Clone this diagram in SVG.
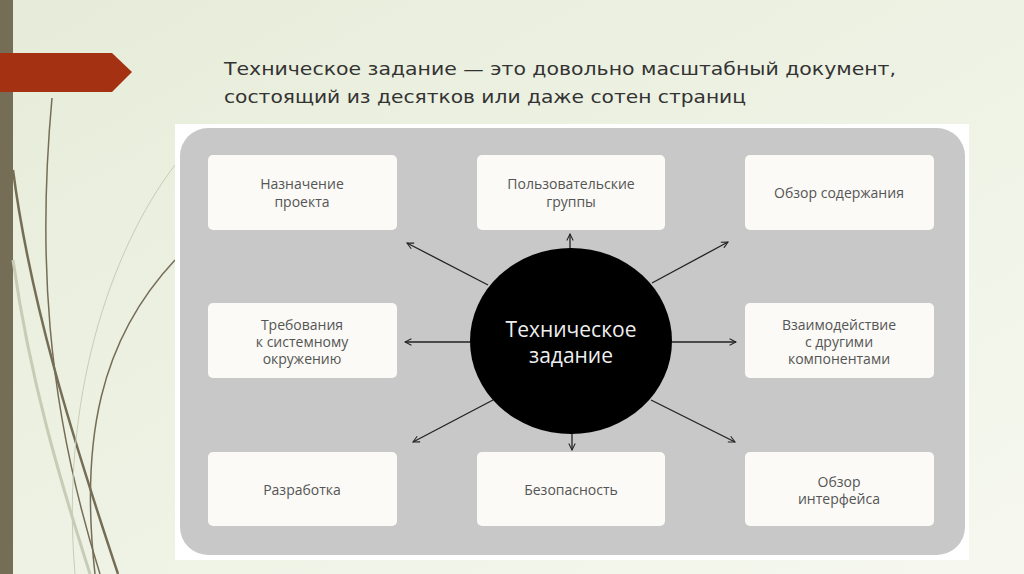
<svg xmlns="http://www.w3.org/2000/svg" width="1024" height="574" viewBox="0 0 1024 574">
<defs>
<linearGradient id="bg" x1="0" y1="0" x2="1" y2="1"><stop offset="0" stop-color="#e6ecd9"/><stop offset="0.5" stop-color="#eef2e4"/><stop offset="1" stop-color="#f6f8ef"/></linearGradient>
<marker id="ah" viewBox="0 0 10 10" refX="9" refY="5" markerWidth="8" markerHeight="8" orient="auto" markerUnits="userSpaceOnUse"><path d="M1,1 L9,5 L1,9" fill="none" stroke="#222" stroke-width="1.3"/></marker>
<style>
.box{fill:#fbfaf6}
.lbl{font-family:"Open Sans","DejaVu Sans",sans-serif;font-size:14px;fill:#555;text-anchor:middle}
.ar{stroke:#222;stroke-width:1.3;marker-end:url(#ah)}
.deco{fill:none;stroke:#766d57}
</style>
</defs>
<rect width="1024" height="574" fill="url(#bg)"/>
<rect x="0" y="0" width="13" height="574" fill="#766d57"/>
<path d="M0,53 H112 L132,72 L112,92 H0 Z" fill="#a53113"/>
<g class="deco">
<path d="M13,170 C30,300 70,430 118,574" stroke-width="2.5"/>
<path d="M52,98 C38,250 45,400 100,574" stroke-width="1.5"/>
<path d="M175,260 C100,340 80,440 95,574" stroke-width="1.5"/>
<path d="M175,165 C110,250 60,400 75,574" stroke-width="1" stroke="#c8ccb6"/>
<path d="M13,260 C30,380 60,480 90,574" stroke-width="3" stroke="#c8ccb6"/>
</g>
<text font-family="'DejaVu Sans',sans-serif" font-size="18" fill="#333" x="224" y="75" textLength="672" lengthAdjust="spacingAndGlyphs">Техническое задание — это довольно масштабный документ,</text>
<text font-family="'DejaVu Sans',sans-serif" font-size="18" fill="#333" x="224" y="103" textLength="522" lengthAdjust="spacingAndGlyphs">состоящий из десятков или даже сотен страниц</text>
<rect x="175" y="124" width="794" height="436" fill="#fff"/>
<rect x="180" y="128" width="785" height="427" rx="28" fill="#c8c8c8"/>
<g id="n1"><rect class="box" x="208" y="155" width="189" height="75" rx="5"/><text class="lbl" x="302" y="189">Назначение</text><text class="lbl" x="302" y="207">проекта</text></g>
<g id="n2"><rect class="box" x="477" y="155" width="188" height="75" rx="5"/><text class="lbl" x="571" y="189">Пользовательские</text><text class="lbl" x="571" y="207">группы</text></g>
<g id="n3"><rect class="box" x="745" y="155" width="189" height="75" rx="5"/><text class="lbl" x="839" y="198">Обзор содержания</text></g>
<g id="n4"><rect class="box" x="208" y="303" width="189" height="75" rx="5"/><text class="lbl" x="302" y="330">Требования</text><text class="lbl" x="302" y="347">к системному</text><text class="lbl" x="302" y="364">окружению</text></g>
<g id="n5"><rect class="box" x="745" y="303" width="189" height="75" rx="5"/><text class="lbl" x="839" y="330">Взаимодействие</text><text class="lbl" x="839" y="347">с другими</text><text class="lbl" x="839" y="364">компонентами</text></g>
<g id="n6"><rect class="box" x="208" y="452" width="189" height="74" rx="5"/><text class="lbl" x="302" y="495">Разработка</text></g>
<g id="n7"><rect class="box" x="477" y="452" width="188" height="74" rx="5"/><text class="lbl" x="571" y="495">Безопасность</text></g>
<g id="n8"><rect class="box" x="745" y="452" width="189" height="74" rx="5"/><text class="lbl" x="839" y="487">Обзор</text><text class="lbl" x="839" y="504">интерфейса</text></g>
<g id="connectors">
<line class="ar" x1="570" y1="249" x2="570" y2="234"/>
<line class="ar" x1="488" y1="285" x2="407" y2="243"/>
<line class="ar" x1="652" y1="283" x2="728" y2="242"/>
<line class="ar" x1="470" y1="342" x2="405" y2="342"/>
<line class="ar" x1="672" y1="342" x2="736" y2="342"/>
<line class="ar" x1="493" y1="400" x2="413" y2="442"/>
<line class="ar" x1="651" y1="400" x2="735" y2="442"/>
<line class="ar" x1="572" y1="432" x2="572" y2="450"/>
</g>
<g id="center"><ellipse cx="571" cy="341" rx="101" ry="93" fill="#000"/><text font-family="'Open Sans','DejaVu Sans',sans-serif" font-size="21" fill="#eee" text-anchor="middle" x="571" y="337">Техническое</text><text font-family="'Open Sans','DejaVu Sans',sans-serif" font-size="21" fill="#eee" text-anchor="middle" x="571" y="363">задание</text></g>
</svg>
